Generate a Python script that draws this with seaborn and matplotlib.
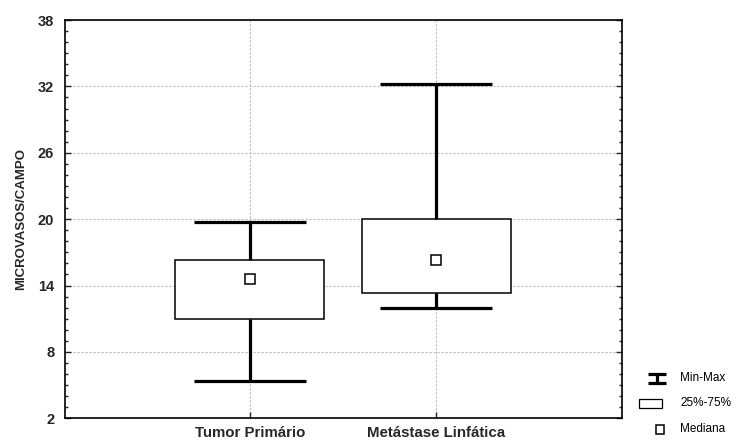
import numpy as np
import pandas as pd
import matplotlib
matplotlib.use("Agg")
import matplotlib.pyplot as plt
from matplotlib.lines import Line2D
from matplotlib.patches import Rectangle
from matplotlib.ticker import MultipleLocator
import seaborn as sns

# Summary statistics of microvessel counts per field
categories = ["Tumor Primário", "Metástase Linfática"]
mins = [5.4, 12.0]
q1 = [11.0, 13.3]
medians = [14.6, 16.3]
q3 = [16.3, 20.0]
maxs = [19.7, 32.2]
y_ticks = [2, 8, 14, 20, 26, 32, 38]
legend_labels = ["Min-Max", "25%-75%", "Mediana"]

# Five-number summary as rows, so the box/whisker stats reproduce it exactly
rows = []
for i, cat in enumerate(categories):
    for v in (mins[i], q1[i], medians[i], q3[i], maxs[i]):
        rows.append({"grupo": cat, "valor": v})
df = pd.DataFrame(rows)
med_df = pd.DataFrame({"grupo": categories, "valor": medians})

sns.set_style("ticks")
plt.rcParams["font.family"] = ["Liberation Sans", "DejaVu Sans"]

W, H = 737, 440
fig = plt.figure(figsize=(W / 100, H / 100), dpi=100)
ax_l, ax_r, ax_t, ax_b = 65.3, 621.7, 20.0, 418.3
ax = fig.add_axes([ax_l / W, 1 - ax_b / H, (ax_r - ax_l) / W, (ax_b - ax_t) / H])

grid_kw = dict(color="#bcbcbc", linewidth=0.8, dashes=(2, 1.6))
ax.set_axisbelow(True)

sns.boxplot(
    data=df, x="grupo", y="valor", order=categories, ax=ax,
    whis=(0, 100), width=0.8, color="white", linecolor="black",
    saturation=1, linewidth=1.1, showfliers=False,
    capwidths=0.6,
    whiskerprops=dict(color="black", linewidth=2.3, solid_capstyle="butt"),
    capprops=dict(color="black", linewidth=2.3, solid_capstyle="butt"),
    medianprops=dict(visible=False),
)

sns.pointplot(
    data=med_df, x="grupo", y="valor", order=categories, ax=ax,
    errorbar=None, linestyle="none", marker="s", markersize=7.5,
    color="black", markerfacecolor="white", markeredgecolor="black",
    markeredgewidth=1.1,
)
for ln in ax.lines:
    if ln.get_marker() == "s":
        ln.set_markerfacecolor("white")
        ln.set_zorder(6)

ax.set_xlim(-0.99, 1.995)
ax.set_ylim(2, 38)
ax.set_yticks(y_ticks)
ax.yaxis.set_minor_locator(MultipleLocator(1))
ax.grid(True, axis="both", which="major", **grid_kw)

ax.tick_params(axis="y", which="major", direction="in", length=4, width=1,
               left=True, right=True, labelsize=10.5, pad=8)
ax.tick_params(axis="y", which="minor", direction="in", length=2.2, width=1,
               left=True, right=True)
ax.tick_params(axis="x", which="major", direction="in", length=4, width=1,
               bottom=True, top=False, labelsize=10.8, pad=5.5)
for lab in ax.get_yticklabels() + ax.get_xticklabels():
    lab.set_fontweight("bold")

ax.set_xlabel("")
ax.set_ylabel("MICROVASOS/CAMPO", fontsize=9.5, fontweight="bold", labelpad=8)

for s in ax.spines.values():
    s.set_visible(True)
    s.set_color("black")
    s.set_linewidth(1.2)


def fx(px):
    return px / W


def fy(py):
    return 1 - py / H


# Legend glyphs placed outside the axes, lower right
tf = fig.transFigure
lw = 2.3
fig.add_artist(Line2D([fx(647.7), fx(665.7)], [fy(374), fy(374)], color="black", lw=lw, transform=tf, solid_capstyle="butt"))
fig.add_artist(Line2D([fx(647.7), fx(665.7)], [fy(382.7), fy(382.7)], color="black", lw=lw, transform=tf, solid_capstyle="butt"))
fig.add_artist(Line2D([fx(656.7), fx(656.7)], [fy(374), fy(382.7)], color="black", lw=lw, transform=tf, solid_capstyle="butt"))
fig.add_artist(Rectangle((fx(639.3), fy(407.7)), fx(661.7) - fx(639.3), fy(399) - fy(407.7),
                         facecolor="white", edgecolor="black", lw=0.9, transform=tf))
fig.add_artist(Rectangle((fx(655.5), fy(433.5)), fx(663.8) - fx(655.5), fy(425.2) - fy(433.5),
                         facecolor="white", edgecolor="black", lw=1.1, transform=tf))
for lab, yy in zip(legend_labels, [378.3, 403.3, 429.0]):
    fig.text(fx(680), fy(yy), lab, fontsize=8.5, va="center", ha="left", color="black")

fig.savefig("out.png", dpi=100)
